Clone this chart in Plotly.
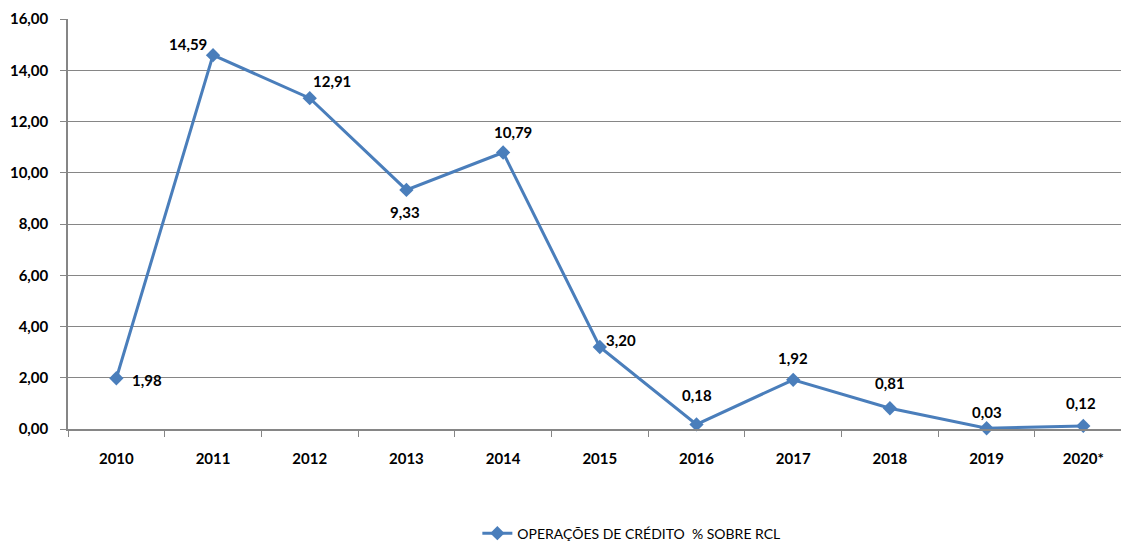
import plotly.graph_objects as go

years = ["2010", "2011", "2012", "2013", "2014", "2015", "2016", "2017", "2018", "2019", "2020*"]
values = [1.98, 14.59, 12.91, 9.33, 10.79, 3.20, 0.18, 1.92, 0.81, 0.03, 0.12]
label_dx = [31, -25, 22, -1, 10, 21, 0, 0, 0, 0, -2]
label_dy = [-2, 11, 17, -22, 21, 7, 29, 22, 25, 16, 23]
y_ticks = [0, 2, 4, 6, 8, 10, 12, 14, 16]
series_name = "OPERAÇÕES DE CRÉDITO  % SOBRE RCL"

def br(v):
    return f"{v:.2f}".replace(".", ",")

BLUE = "#4A7EBB"
GRAY = "#868686"
FONT = "Lato"

fig = go.Figure()
fig.add_trace(go.Scatter(
    x=years, y=values, mode="lines+markers",
    name=series_name,
    line=dict(color=BLUE, width=3),
    marker=dict(symbol="diamond", size=11, color=BLUE),
    cliponaxis=False,
))

for i, (v, dx, dy) in enumerate(zip(values, label_dx, label_dy)):
    fig.add_annotation(
        x=i, y=v, xref="x", yref="y", text=br(v), showarrow=False,
        xshift=dx, yshift=dy,
        font=dict(family=FONT, size=15, color="#000000", weight="bold"),
    )

fig.update_layout(
    width=1121, height=542,
    margin=dict(l=68, r=0, t=19, b=113, autoexpand=False),
    plot_bgcolor="white", paper_bgcolor="white",
    showlegend=True,
    legend=dict(orientation="h", x=0.535, xanchor="center", y=-0.255, yanchor="middle",
                font=dict(family=FONT, size=14, color="#000000")),
    xaxis=dict(
        type="category",
        range=[-0.5, 10.39],
        tickson="boundaries", ticks="outside", ticklen=6, tickcolor=GRAY,
        showgrid=False, showline=True, linecolor=GRAY, linewidth=1.5,
        tickfont=dict(family=FONT, size=15, color="#000000", weight="bold"),
        ticklabelstandoff=15, zeroline=False, automargin=False,
    ),
    yaxis=dict(
        range=[0, 16],
        tickmode="array", tickvals=y_ticks, ticktext=[br(v) for v in y_ticks],
        ticks="outside", ticklen=6, tickcolor=GRAY,
        showgrid=True, gridcolor=GRAY, gridwidth=1,
        showline=True, linecolor=GRAY, linewidth=1.5,
        tickfont=dict(family=FONT, size=15, color="#000000", weight="bold"),
        zeroline=False, ticklabelstandoff=9, automargin=False,
    ),
)

fig.write_html("out.html")
